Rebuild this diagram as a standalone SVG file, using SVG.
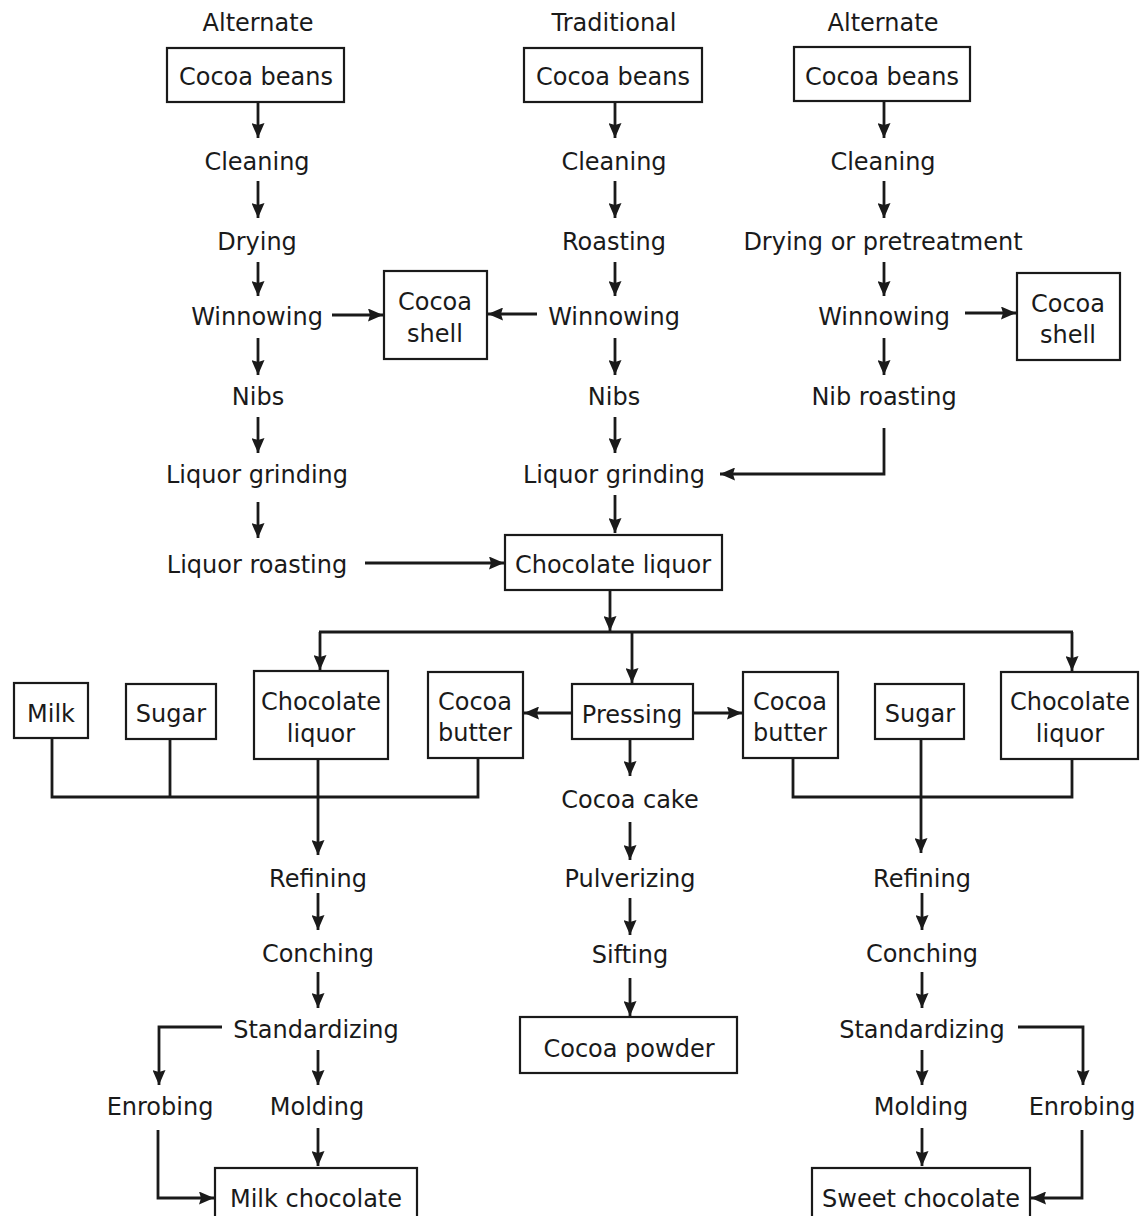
<svg xmlns="http://www.w3.org/2000/svg" width="1140" height="1216" viewBox="0 0 1140 1216">
<defs>
<marker id="ah" markerUnits="userSpaceOnUse" markerWidth="16" markerHeight="13" refX="15" refY="6.5" orient="auto">
<path d="M0,0 L15,6.5 L0,13 L2,6.5 z" fill="#1a1a1a"/>
</marker>
</defs>
<style>
text{font-family:"DejaVu Sans",sans-serif;font-size:24px;fill:#1a1a1a;text-anchor:middle}
rect{fill:#fff;stroke:#1a1a1a;stroke-width:2.2}
.c path,.c line{fill:none;stroke:#1a1a1a;stroke-width:2.8}
.a{marker-end:url(#ah)}
</style>
<rect width="1140" height="1216" style="fill:#fff;stroke:none"/>
<g id="headers">
<text x="258" y="31">Alternate</text>
<text x="614" y="31">Traditional</text>
<text x="883" y="31">Alternate</text>
</g>
<g class="c" id="connectors">
<line class="a" x1="258" y1="102" x2="258" y2="138"/>
<line class="a" x1="258" y1="181" x2="258" y2="218"/>
<line class="a" x1="258" y1="262" x2="258" y2="296"/>
<line class="a" x1="258" y1="338" x2="258" y2="375"/>
<line class="a" x1="258" y1="417" x2="258" y2="453"/>
<line class="a" x1="258" y1="502" x2="258" y2="538"/>
<line class="a" x1="332" y1="315" x2="383" y2="315"/>
<line class="a" x1="365" y1="563" x2="504" y2="563"/>
<line class="a" x1="615" y1="102" x2="615" y2="138"/>
<line class="a" x1="615" y1="181" x2="615" y2="218"/>
<line class="a" x1="615" y1="262" x2="615" y2="296"/>
<line class="a" x1="537" y1="314" x2="488" y2="314"/>
<line class="a" x1="615" y1="338" x2="615" y2="375"/>
<line class="a" x1="615" y1="417" x2="615" y2="453"/>
<line class="a" x1="615" y1="495" x2="615" y2="533"/>
<path class="a" d="M884,428 V474 H720"/>
<line class="a" x1="884" y1="102" x2="884" y2="138"/>
<line class="a" x1="884" y1="181" x2="884" y2="218"/>
<line class="a" x1="884" y1="262" x2="884" y2="296"/>
<line class="a" x1="965" y1="313" x2="1016" y2="313"/>
<line class="a" x1="884" y1="338" x2="884" y2="375"/>
<line class="a" x1="610" y1="590" x2="610" y2="631"/>
<line x1="319" y1="632" x2="1073" y2="632"/>
<line class="a" x1="320" y1="632" x2="320" y2="670"/>
<line class="a" x1="632" y1="632" x2="632" y2="683"/>
<line class="a" x1="1072" y1="632" x2="1072" y2="671"/>
<line class="a" x1="572" y1="713" x2="524" y2="713"/>
<line class="a" x1="693" y1="713" x2="742" y2="713"/>
<line class="a" x1="630" y1="739" x2="630" y2="776"/>
<line class="a" x1="630" y1="822" x2="630" y2="860"/>
<line class="a" x1="630" y1="898" x2="630" y2="935"/>
<line class="a" x1="630" y1="978" x2="630" y2="1016"/>
<path d="M52,738 V797 H478 V758"/>
<line x1="170" y1="739" x2="170" y2="797"/>
<line class="a" x1="318" y1="759" x2="318" y2="855"/>
<path d="M793,758 V797 H1072 V759"/>
<line class="a" x1="921" y1="739" x2="921" y2="853"/>
<line class="a" x1="318" y1="893" x2="318" y2="930"/>
<line class="a" x1="318" y1="972" x2="318" y2="1008"/>
<line class="a" x1="318" y1="1050" x2="318" y2="1085"/>
<line class="a" x1="318" y1="1128" x2="318" y2="1166"/>
<path class="a" d="M222,1027 H159 V1085"/>
<path class="a" d="M158,1130 V1198 H214"/>
<line class="a" x1="922" y1="893" x2="922" y2="930"/>
<line class="a" x1="922" y1="972" x2="922" y2="1008"/>
<line class="a" x1="922" y1="1050" x2="922" y2="1085"/>
<line class="a" x1="922" y1="1128" x2="922" y2="1166"/>
<path class="a" d="M1018,1027 H1083 V1085"/>
<path class="a" d="M1082,1130 V1198 H1031"/>
</g>
<g id="beans-left"><rect x="167" y="48" width="177" height="54"/><text x="256" y="85">Cocoa beans</text></g>
<g id="beans-mid"><rect x="524" y="48" width="178" height="54"/><text x="613" y="85">Cocoa beans</text></g>
<g id="beans-right"><rect x="794" y="47" width="176" height="54"/><text x="882" y="85">Cocoa beans</text></g>
<g id="cleaning-left"><text x="257" y="170">Cleaning</text></g>
<g id="cleaning-mid"><text x="614" y="170">Cleaning</text></g>
<g id="cleaning-right"><text x="883" y="170">Cleaning</text></g>
<g id="drying-left"><text x="257" y="250">Drying</text></g>
<g id="roasting-mid"><text x="614" y="250">Roasting</text></g>
<g id="drying-right"><text x="883" y="250">Drying or pretreatment</text></g>
<g id="winnowing-left"><text x="257" y="325">Winnowing</text></g>
<g id="winnowing-mid"><text x="614" y="325">Winnowing</text></g>
<g id="winnowing-right"><text x="884" y="325">Winnowing</text></g>
<g id="shell-left"><rect x="384" y="271" width="103" height="88"/><text x="435" y="310">Cocoa</text><text x="435" y="342">shell</text></g>
<g id="shell-right"><rect x="1017" y="273" width="103" height="87"/><text x="1068" y="312">Cocoa</text><text x="1068" y="343">shell</text></g>
<g id="nibs-left"><text x="258" y="405">Nibs</text></g>
<g id="nibs-mid"><text x="614" y="405">Nibs</text></g>
<g id="nibroast-right"><text x="884" y="405">Nib roasting</text></g>
<g id="grinding-left"><text x="257" y="483">Liquor grinding</text></g>
<g id="grinding-mid"><text x="614" y="483">Liquor grinding</text></g>
<g id="liqroast-left"><text x="257" y="573">Liquor roasting</text></g>
<g id="choc-liquor"><rect x="505" y="535" width="217" height="55"/><text x="613" y="573">Chocolate liquor</text></g>
<g id="milk"><rect x="14" y="683" width="74" height="55"/><text x="51" y="722">Milk</text></g>
<g id="sugar-left"><rect x="126" y="684" width="90" height="55"/><text x="171" y="722">Sugar</text></g>
<g id="liquor-left"><rect x="254" y="671" width="134" height="88"/><text x="321" y="710">Chocolate</text><text x="321" y="742">liquor</text></g>
<g id="butter-left"><rect x="428" y="672" width="95" height="86"/><text x="475" y="710">Cocoa</text><text x="475" y="741">butter</text></g>
<g id="pressing"><rect x="572" y="684" width="121" height="55"/><text x="632" y="723">Pressing</text></g>
<g id="butter-right"><rect x="743" y="672" width="95" height="86"/><text x="790" y="710">Cocoa</text><text x="790" y="741">butter</text></g>
<g id="sugar-right"><rect x="875" y="684" width="89" height="55"/><text x="920" y="722">Sugar</text></g>
<g id="liquor-right"><rect x="1001" y="672" width="137" height="87"/><text x="1070" y="710">Chocolate</text><text x="1070" y="742">liquor</text></g>
<g id="cake"><text x="630" y="808">Cocoa cake</text></g>
<g id="pulverizing"><text x="630" y="887">Pulverizing</text></g>
<g id="sifting"><text x="630" y="963">Sifting</text></g>
<g id="powder"><rect x="520" y="1017" width="217" height="56"/><text x="629" y="1057">Cocoa powder</text></g>
<g id="refining-left"><text x="318" y="887">Refining</text></g>
<g id="conching-left"><text x="318" y="962">Conching</text></g>
<g id="std-left"><text x="316" y="1038">Standardizing</text></g>
<g id="enrobing-left"><text x="160" y="1115">Enrobing</text></g>
<g id="molding-left"><text x="317" y="1115">Molding</text></g>
<g id="milkchoc"><rect x="215" y="1168" width="202" height="70"/><text x="316" y="1207">Milk chocolate</text></g>
<g id="refining-right"><text x="922" y="887">Refining</text></g>
<g id="conching-right"><text x="922" y="962">Conching</text></g>
<g id="std-right"><text x="922" y="1038">Standardizing</text></g>
<g id="molding-right"><text x="921" y="1115">Molding</text></g>
<g id="enrobing-right"><text x="1082" y="1115">Enrobing</text></g>
<g id="sweetchoc"><rect x="812" y="1168" width="218" height="70"/><text x="921" y="1207">Sweet chocolate</text></g>
</svg>
